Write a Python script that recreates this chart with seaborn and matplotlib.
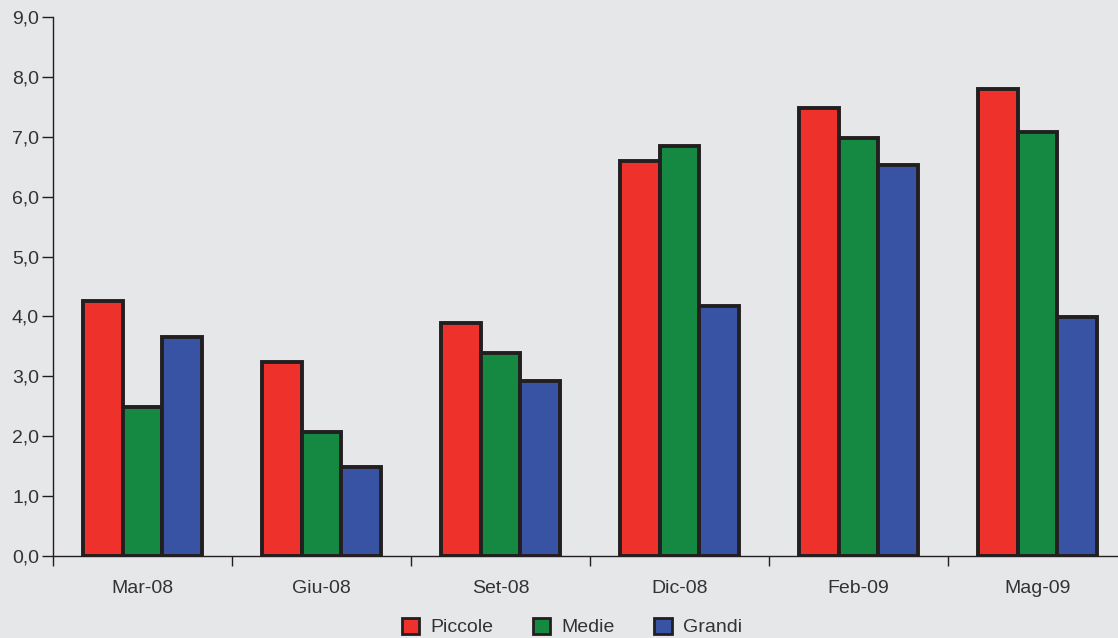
import pandas as pd
import numpy as np
import seaborn as sns
import matplotlib.pyplot as plt
from matplotlib.ticker import FixedLocator, FuncFormatter

periods = ['Mar-08', 'Giu-08', 'Set-08', 'Dic-08', 'Feb-09', 'Mag-09']
piccole = [4.25, 3.24, 3.89, 6.59, 7.48, 7.80]
medie = [2.49, 2.07, 3.39, 6.84, 6.98, 7.08]
grandi = [3.66, 1.48, 2.92, 4.18, 6.53, 3.99]
groups = ['Piccole', 'Medie', 'Grandi']
colors = ['#ee312b', '#158942', '#3853a4']

bg = '#e6e7e9'
ink = '#231f20'
txt = '#333333'

plt.rcParams['font.family'] = ['Liberation Sans', 'DejaVu Sans']

df = pd.DataFrame({
    'Periodo': periods * 3,
    'Gruppo': [g for g in groups for _ in periods],
    'Valore': piccole + medie + grandi,
})

fig = plt.figure(figsize=(11.18, 6.38), dpi=100, facecolor=bg)
ax = fig.add_axes([53 / 1118, 82 / 638, 1074 / 1118, 539 / 638])
ax.set_facecolor(bg)

sns.barplot(data=df, x='Periodo', y='Valore', hue='Gruppo', order=periods,
            hue_order=groups, palette=colors, width=0.67, edgecolor=ink,
            linewidth=2.8, saturation=1, ax=ax, errorbar=None)

ax.set_xlim(-0.5, len(periods) - 0.5)
ax.set_ylim(0, 9)
ax.set_yticks(np.arange(0, 9.5, 1))
ax.yaxis.set_major_formatter(FuncFormatter(lambda v, p: f'{v:.1f}'.replace('.', ',')))

ax.xaxis.set_minor_locator(FixedLocator(np.arange(-0.5, len(periods), 1)))
ax.tick_params(axis='x', which='major', length=0, pad=17, labelsize=14, labelcolor=txt)
ax.tick_params(axis='x', which='minor', length=7, width=1, color=ink, direction='out')
ax.tick_params(axis='y', length=8, width=1, color=ink, pad=2, labelsize=14, labelcolor=txt)

for s in ['top', 'right']:
    ax.spines[s].set_visible(False)
for s in ['left', 'bottom']:
    ax.spines[s].set_color(ink)
    ax.spines[s].set_linewidth(1)

ax.set_xlabel('')
ax.set_ylabel('')
ax.get_legend().remove()

handles = [plt.Rectangle((0, 0), 1, 1, facecolor=c, edgecolor=ink, linewidth=2) for c in colors]
fig.legend(handles, groups, loc='center', bbox_to_anchor=(572 / 1118, 11 / 638), ncol=3,
           frameon=False, fontsize=14, handlelength=0.9, handleheight=0.9,
           columnspacing=2.0, handletextpad=0.6, labelcolor=txt, borderpad=0.1)

fig.savefig('out.png', dpi=100, facecolor=bg)
